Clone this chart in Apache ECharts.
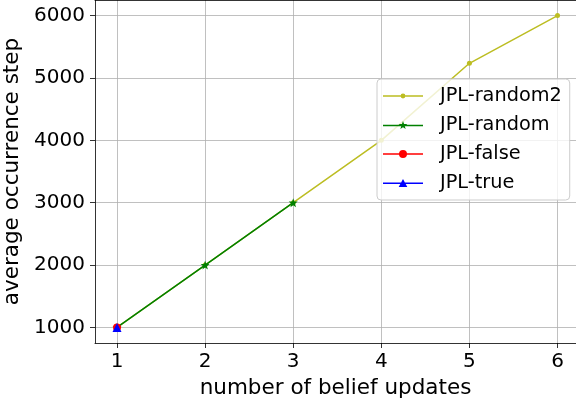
<!DOCTYPE html>
<html><head><meta charset="utf-8">
<script src="https://cdn.jsdelivr.net/npm/echarts@6/dist/echarts.min.js"></script>
<style>html,body{margin:0;padding:0;background:#fff}#c{width:576px;height:402px}</style>
</head><body><div id="c"></div>
<script>
const xTicks = [1, 2, 3, 4, 5, 6];
const yTicks = [1000, 2000, 3000, 4000, 5000, 6000];
const seriesNames = ['JPL-random2', 'JPL-random', 'JPL-false', 'JPL-true'];
const xRandom2 = [1, 2, 3, 4, 5, 6];
const yRandom2 = [1000, 2000, 3000, 4000, 5235, 6000];
const xRandom = [1, 2, 3];
const yRandom = [1000, 2000, 3000];
const xFalse = [1];
const yFalse = [1000];
const xTrue = [1];
const yTrue = [1000];

const font = 'DejaVu Sans';
const zip = (xs, ys) => xs.map((x, i) => [x, ys[i]]);

const STAR = 'path://M0,-10 L2.35,-3.24 L9.51,-3.09 L3.8,1.24 L5.88,8.09 L0,4 L-5.88,8.09 L-3.8,1.24 L-9.51,-3.09 L-2.35,-3.24 Z';
const LINE = 'M0,5.2 L40,5.2 L40,6.8 L0,6.8 Z ';
const legendIcons = {
  'JPL-random2': 'path://' + LINE + 'M22.4,6 A2.4,2.4 0 1,1 17.6,6 A2.4,2.4 0 1,1 22.4,6 Z',
  'JPL-random': 'path://' + LINE + 'M20,1.5 L21.06,4.54 L24.28,4.61 L21.71,6.56 L22.65,9.64 L20,7.8 L17.35,9.64 L18.29,6.56 L15.72,4.61 L18.94,4.54 Z',
  'JPL-false': 'path://' + LINE + 'M24,6 A4,4 0 1,1 16,6 A4,4 0 1,1 24,6 Z',
  'JPL-true': 'path://' + LINE + 'M20,1.8 L24.3,9.6 L15.7,9.6 Z'
};

const chart = echarts.init(document.getElementById('c'), null, {renderer: 'canvas'});
const spine = {show: true, lineStyle: {color: '#000', width: 0.8}};
const tick = (vals) => ({show: true, customValues: vals, length: 5, lineStyle: {color: '#000', width: 0.8}});
const grid = {show: true, lineStyle: {color: '#b0b0b0', width: 0.8}};
function mk(name, xs, ys, color, symbol, size, z) {
  return {
    name, type: 'line', data: zip(xs, ys), z,
    symbol, symbolSize: size, showSymbol: true,
    lineStyle: {color, width: 1.5},
    itemStyle: {color},
    animation: false
  };
}
chart.setOption({
  animation: false,
  grid: {left: 95, right: 0, top: 0, bottom: 59, show: false, containLabel: false, outerBoundsMode: 'none'},
  xAxis: [{
    type: 'value', min: 0.75, max: 6.21, position: 'bottom',
    name: 'number of belief updates', nameLocation: 'middle', nameGap: 34,
    nameTextStyle: {fontFamily: font, fontSize: 21.5, color: '#000'},
    axisLabel: {customValues: xTicks, formatter: v => String(v), fontFamily: font, fontSize: 20, color: '#000', margin: 9},
    axisLine: spine, axisTick: tick(xTicks), splitLine: grid
  }, {
    type: 'value', min: 0.75, max: 6.21, position: 'top',
    axisLine: spine, axisTick: {show: false}, axisLabel: {show: false}, splitLine: {show: false}
  }],
  yAxis: {
    type: 'value', min: 750, max: 6250,
    name: 'average occurrence step', nameLocation: 'middle', nameGap: 66,
    nameTextStyle: {fontFamily: font, fontSize: 21.5, color: '#000'},
    axisLabel: {customValues: yTicks, formatter: v => String(v), fontFamily: font, fontSize: 20, color: '#000', margin: 10},
    axisLine: spine, axisTick: tick(yTicks), splitLine: grid
  },
  legend: {
    show: true, orient: 'vertical', left: 377, top: 79,
    data: seriesNames.map(n => ({name: n, icon: legendIcons[n]})),
    itemWidth: 40, itemHeight: 12, itemGap: 9,
    padding: [7, 8, 7, 6],
    backgroundColor: 'rgba(255,255,255,0.8)', borderColor: '#cccccc', borderWidth: 1, borderRadius: 4,
    textStyle: {fontFamily: font, fontSize: 19.3, lineHeight: 20, color: '#000', padding: [0, 0, 0, 12]}
  },
  series: [
    mk('JPL-random2', xRandom2, yRandom2, '#bcbd22', 'circle', 5, 2),
    mk('JPL-random', xRandom, yRandom, '#008000', STAR, 9, 3),
    mk('JPL-false', xFalse, yFalse, '#ff0000', 'circle', 8, 4),
    mk('JPL-true', xTrue, yTrue, '#0000ff', 'triangle', 9, 5),
  ]
});
</script></body></html>
